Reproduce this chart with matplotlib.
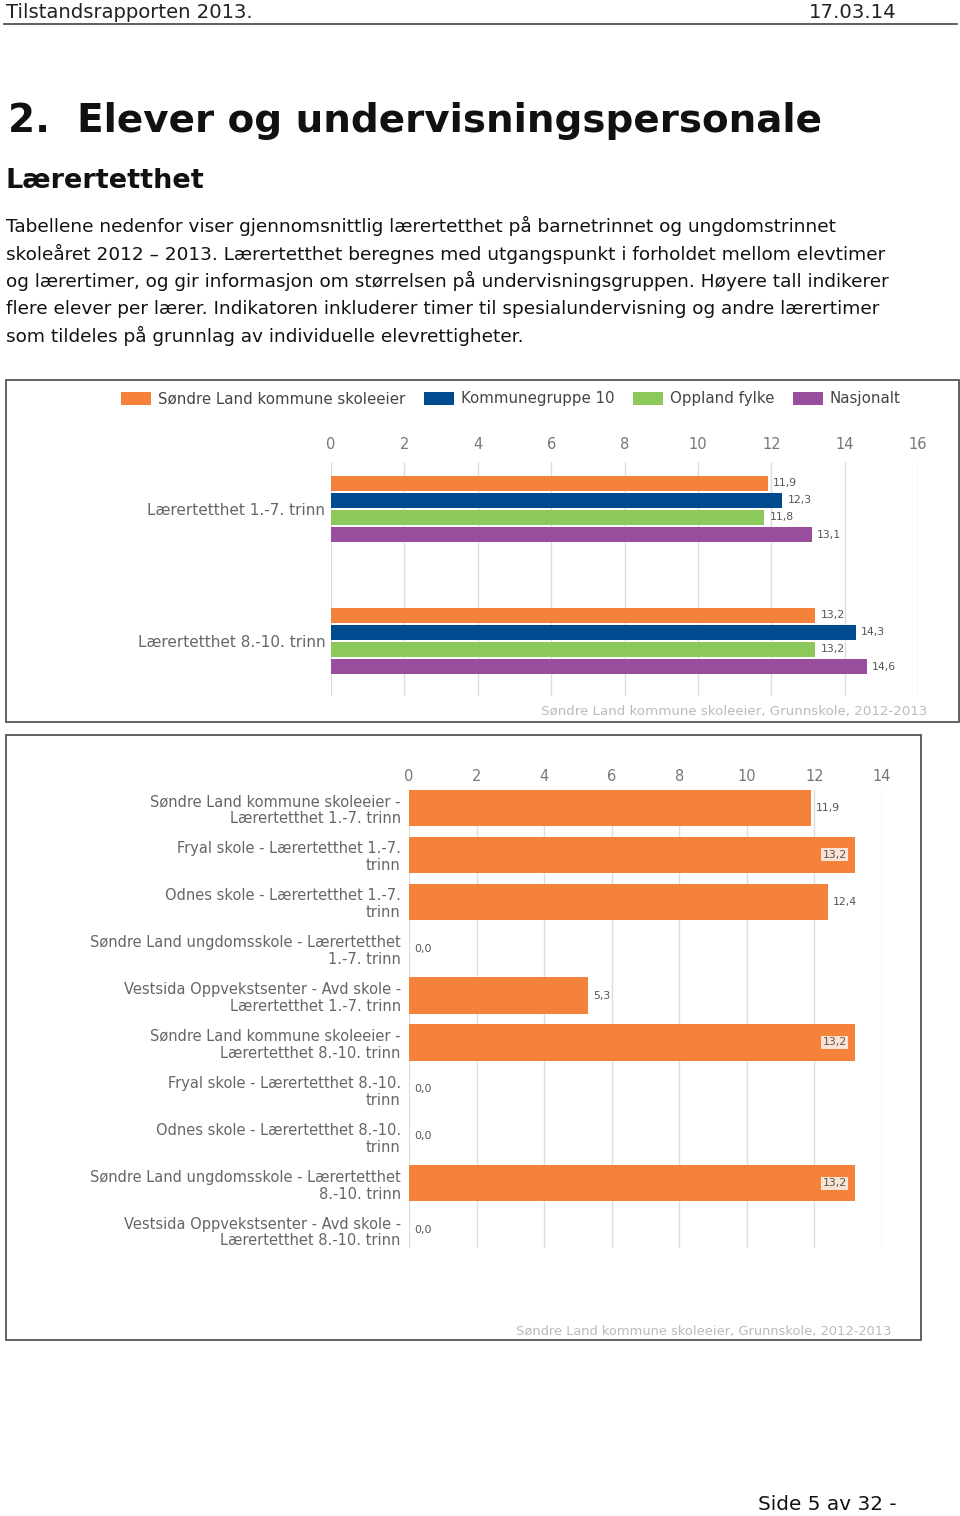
import matplotlib
matplotlib.use('Agg')
import matplotlib.pyplot as plt
from matplotlib.patches import Rectangle
from matplotlib.lines import Line2D
import numpy as np

plt.rcParams['font.family'] = ['DejaVu Sans']

W, H = 960, 1516

# ---- data ----
groups1 = ['Lærertetthet 1.-7. trinn', 'Lærertetthet 8.-10. trinn']
series1 = ['Søndre Land kommune skoleeier', 'Kommunegruppe 10', 'Oppland fylke', 'Nasjonalt']
sondre_land = [11.9, 13.2]
kommunegruppe = [12.3, 14.3]
oppland = [11.8, 13.2]
nasjonalt = [13.1, 14.6]
ticks1 = [0, 2, 4, 6, 8, 10, 12, 14, 16]

schools = ['Søndre Land kommune skoleeier -\nLærertetthet 1.-7. trinn',
           'Fryal skole - Lærertetthet 1.-7.\ntrinn',
           'Odnes skole - Lærertetthet 1.-7.\ntrinn',
           'Søndre Land ungdomsskole - Lærertetthet\n1.-7. trinn',
           'Vestsida Oppvekstsenter - Avd skole -\nLærertetthet 1.-7. trinn',
           'Søndre Land kommune skoleeier -\nLærertetthet 8.-10. trinn',
           'Fryal skole - Lærertetthet 8.-10.\ntrinn',
           'Odnes skole - Lærertetthet 8.-10.\ntrinn',
           'Søndre Land ungdomsskole - Lærertetthet\n8.-10. trinn',
           'Vestsida Oppvekstsenter - Avd skole -\nLærertetthet 8.-10. trinn']
school_vals = [11.9, 13.2, 12.4, 0.0, 5.3, 13.2, 0.0, 0.0, 13.2, 0.0]
ticks2 = [0, 2, 4, 6, 8, 10, 12, 14]

colors1 = ['#F4823A', '#004A8F', '#8DC85A', '#984E9C']
ORANGE = '#F4823A'
GREY = '#666666'
SRC = 'Søndre Land kommune skoleeier, Grunnskole, 2012-2013'


def fx(x):
    return x / W


def fy(y):
    return 1 - y / H


def comma(v):
    return f'{v:.1f}'.replace('.', ',')


fig = plt.figure(figsize=(W / 100, H / 100), dpi=100)
fig.patch.set_facecolor('white')

# ---- page text ----
fig.text(fx(6), fy(12), 'Tilstandsrapporten 2013.', fontsize=14.1, color='#222', va='center')
fig.text(fx(897), fy(12), '17.03.14', fontsize=14.2, color='#222', va='center', ha='right')
fig.add_artist(Line2D([fx(4), fx(957)], [fy(24), fy(24)], color='#444', lw=1.2))

fig.text(fx(8), fy(121), '2.  Elever og undervisningspersonale', fontsize=28,
         fontweight='bold', color='#111', va='center')
fig.text(fx(6), fy(181), 'Lærertetthet', fontsize=19.5, fontweight='bold', color='#111', va='center')

para = ['Tabellene nedenfor viser gjennomsnittlig lærertetthet på barnetrinnet og ungdomstrinnet',
        'skoleåret 2012 – 2013. Lærertetthet beregnes med utgangspunkt i forholdet mellom elevtimer',
        'og lærertimer, og gir informasjon om størrelsen på undervisningsgruppen. Høyere tall indikerer',
        'flere elever per lærer. Indikatoren inkluderer timer til spesialundervisning og andre lærertimer',
        'som tildeles på grunnlag av individuelle elevrettigheter.']
for i, line in enumerate(para):
    fig.text(fx(6), fy(226 + i * 27.5), line, fontsize=13.3, color='#111', va='center')

fig.text(fx(897), fy(1505), 'Side 5 av 32 -', fontsize=14.4, color='#111', va='center', ha='right')

# ---- chart boxes ----
for (x0, y0, x1, y1) in [(6, 380, 959, 722), (6, 735, 921, 1340)]:
    fig.add_artist(Rectangle((fx(x0), fy(y1)), fx(x1 - x0), (y1 - y0) / H,
                             transform=fig.transFigure, fill=False, ec='#555', lw=1.3))

# ---- chart 1 ----
ax1 = fig.add_axes([fx(331), fy(696), fx(918 - 331), (696 - 462) / H])
y = np.arange(len(groups1))
bh = 0.118
step = 0.129
handles = []
for k, (vals, c, name) in enumerate(zip([sondre_land, kommunegruppe, oppland, nasjonalt],
                                        colors1, series1)):
    pos = y + (k - 1.5) * step
    b = ax1.barh(pos, vals, height=bh, color=c, label=name, zorder=3)
    handles.append(b)
    for p, v in zip(pos, vals):
        ax1.text(v + 0.15, p, comma(v), fontsize=7.8, color='#555', va='center', ha='left')

ax1.set_xlim(0, 16)
ax1.set_ylim(1.417, -0.356)
ax1.set_xticks(ticks1)
ax1.xaxis.tick_top()
ax1.tick_params(axis='x', length=0, pad=7, labelsize=10.5, labelcolor='#777')
ax1.set_yticks(y)
ax1.set_yticklabels(groups1)
ax1.tick_params(axis='y', length=0, pad=4, labelsize=11, labelcolor=GREY)
ax1.grid(axis='x', color='#dddddd', lw=1, zorder=0)
for s in ax1.spines.values():
    s.set_visible(False)

fig.legend(handles=handles, loc='center', bbox_to_anchor=(fx(511), fy(399)), ncol=4,
           frameon=False, fontsize=10.8, handlelength=2.0, handleheight=0.9,
           handletextpad=0.45, columnspacing=1.25, labelcolor='#444')
fig.text(fx(927), fy(712), SRC, fontsize=9.6, color='#bbbbbb', ha='right', va='center')

# ---- chart 2 ----
ax2 = fig.add_axes([fx(409), fy(1248), fx(882 - 409), (1248 - 790) / H])
y2 = np.arange(len(schools))
ax2.barh(y2, school_vals, height=0.77, color=ORANGE, zorder=3)
for p, v in zip(y2, school_vals):
    if v >= 13:
        ax2.text(v - 0.25, p, comma(v), fontsize=7.8, color='#555', va='center', ha='right',
                 bbox=dict(boxstyle='square,pad=0.15', fc='#FBE3D4', ec='none'), zorder=4)
    else:
        ax2.text(v + 0.15, p, comma(v), fontsize=7.8, color='#555', va='center', ha='left')

ax2.set_xlim(0, 14)
ax2.set_ylim(9.38, -0.38)
ax2.set_xticks(ticks2)
ax2.xaxis.tick_top()
ax2.tick_params(axis='x', length=0, pad=4, labelsize=10.5, labelcolor='#777')
ax2.set_yticks(y2)
ax2.set_yticklabels(schools, linespacing=1.15)
ax2.tick_params(axis='y', length=0, pad=6, labelsize=10.5, labelcolor=GREY)
ax2.grid(axis='x', color='#dddddd', lw=1, zorder=0)
for s in ax2.spines.values():
    s.set_visible(False)
fig.text(fx(891), fy(1331), SRC, fontsize=9.4, color='#bbbbbb', ha='right', va='center')

fig.savefig('out.png', dpi=100, facecolor='white')
